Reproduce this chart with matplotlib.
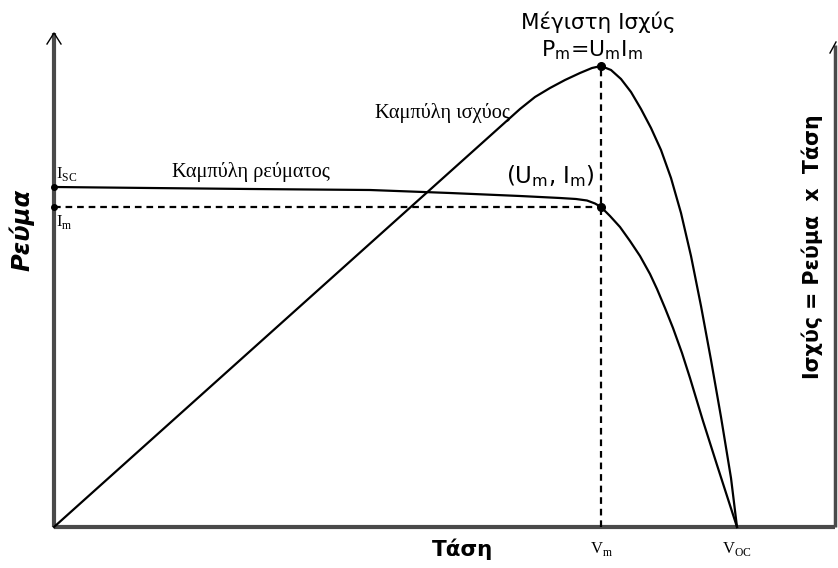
import matplotlib
matplotlib.use("Agg")
import matplotlib.pyplot as plt

# Read-off values (arbitrary units: voltage 0..Voc, current & power scaled to the drawing)
v_current = [0, 96, 196, 316, 396, 466, 506, 522, 533, 541, 547, 556, 566, 576, 586, 596, 603,
             611, 619, 628, 636, 649, 663, 673, 683]
current   = [340, 339, 338, 337, 334, 331, 329, 328, 326.5, 323.5, 320, 311, 300, 286, 271, 253, 238,
             219, 199, 174, 149, 106, 62, 31, 0]
v_power   = [0, 466, 481, 496, 511, 526, 538, 547, 557, 567, 577, 587, 597, 607, 617, 627, 637, 647,
             657, 667, 677, 683]
power     = [0, 418, 430, 439, 447, 454, 459, 461, 457, 448, 435, 418, 399, 377, 349, 314, 271, 221,
             167, 110, 49, 0]
Vm, Im, Pm, Isc, Voc = 547, 320, 461, 340, 683

W, H = 838, 568
x0, y0 = 54, 527
fig = plt.figure(figsize=(W / 100, H / 100), dpi=100)
ax = fig.add_axes([x0 / W, (H - y0) / H, (W - x0) / W, y0 / H])
ax.set_xlim(0, W - x0)
ax.set_ylim(0, y0)
ax.axis('off')

axcol = '#4a4a4a'
# axis lines
ax.plot([0, 0], [0, 494], color=axcol, lw=3, clip_on=False, solid_capstyle='butt')
ax.plot([0, 781], [0, 0], color=axcol, lw=3, clip_on=False, solid_capstyle='butt')
ax.plot([781, 781], [0, 482], color=axcol, lw=2.5, clip_on=False, solid_capstyle='butt')
# arrowheads
ax.plot([-7, 0, 7], [483, 494, 483], color='black', lw=1, clip_on=False)
ax.plot([776, 782], [474, 485], color='black', lw=1, clip_on=False)

# curves
ax.plot(v_current, current, color='black', lw=1.6, clip_on=False, solid_joinstyle='round')
ax.plot(v_power, power, color='black', lw=1.6, clip_on=False, solid_joinstyle='round')

# dashed guides
ax.plot([0, Vm], [Im, Im], color='black', lw=1.6, ls=(0, (3, 2.2)))
ax.plot([Vm, Vm], [0, Pm], color='black', lw=1.6, ls=(0, (3, 2.2)))

# markers
ax.plot([Vm, Vm], [Pm, Im], 'o', color='black', ms=5.5)
ax.plot([0, 0], [Isc, Im], 'o', color='black', ms=4, clip_on=False)

sans = ['DejaVu Sans']
serif = ['Liberation Serif', 'DejaVu Serif']
ax.text(544, 505, 'Μέγιστη Ισχύς', ha='center', va='center', fontsize=15.5, family=sans)
ax.text(538, 477, r'P$_\mathregular{m}$=U$_\mathregular{m}$I$_\mathregular{m}$',
        ha='center', va='center', fontsize=15.8, family=sans)
ax.text(541, 351, r'(U$_\mathregular{m}$, I$_\mathregular{m}$)', ha='right', va='center',
        fontsize=16.5, family=sans)
ax.text(321, 414, 'Καμπύλη ισχύος', ha='left', va='center', fontsize=14.7, family=serif)
ax.text(118, 355, 'Καμπύλη ρεύματος', ha='left', va='center', fontsize=14.7, family=serif)
ax.text(2, 353, r'I$_\mathregular{SC}$', ha='left', va='center', fontsize=12, family=serif)
ax.text(2, 305, r'I$_\mathregular{m}$', ha='left', va='center', fontsize=12, family=serif)

ax.text(Vm, -22, r'V$_\mathregular{m}$', ha='center', va='center', fontsize=12, family=serif)
ax.text(Voc, -22, r'V$_\mathregular{OC}$', ha='center', va='center', fontsize=12, family=serif)
ax.text(408, -22, 'Τάση', ha='center', va='center', fontsize=15.5, fontweight='bold', family=sans)

ax.text(-32, 297, 'Ρεύμα', ha='center', va='center', rotation=90, fontsize=17.5,
        fontweight='bold', fontstyle='italic', family=sans)
ax.text(758, 280, 'Ισχύς = Ρεύμα  x  Τάση', ha='center', va='center', rotation=90,
        fontsize=14.8, fontweight='bold', family=sans)

fig.savefig('out.png', dpi=100)
